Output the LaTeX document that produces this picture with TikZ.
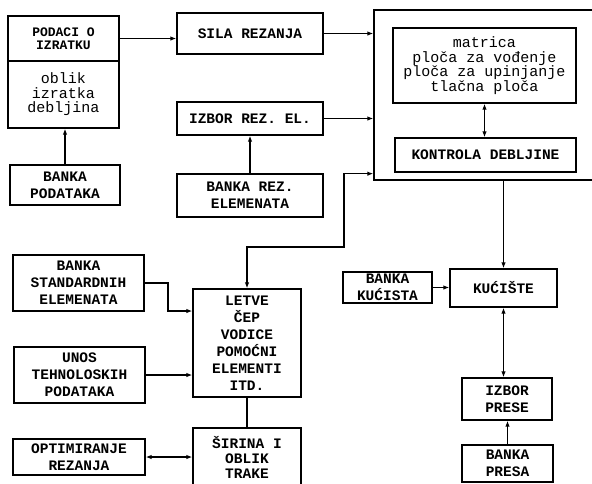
\documentclass[tikz,border=0pt]{standalone}
\usepackage{fontspec}
\newfontfamily\typew{Liberation Mono}
\usetikzlibrary{arrows.meta}

\begin{document}
\begin{tikzpicture}[
  x=1pt, y=-1pt,
  >={Latex[length=6pt,width=4.5pt]},
  box/.style={
    rectangle,
    draw=black,
    line width=1.3pt,
    align=center,
    inner sep=0pt,
    font=\typew\bfseries\fontsize{14.5}{17}\selectfont
  },
  lowbox/.style={
    box,
    font=\typew\fontsize{15}{14.5}\selectfont
  },
  headbox/.style={
    box,
    font=\typew\bfseries\fontsize{13}{13}\selectfont
  },
  arr/.style={->,line width=1.3pt},
  darr/.style={<->,line width=1.3pt},
  ln/.style={line width=1.3pt}
]
\clip (0,0) rectangle (592,483);

% outer block on the right
\node[box, minimum width=226pt, minimum height=170pt] (alat) at (487,95) {};
\node[lowbox, minimum width=183pt, minimum height=75pt] (matrica) at (484.5,65.5)
  {matrica\\ploča za vođenje\\ploča za upinjanje\\tlačna ploča};
\node[box, minimum width=181pt, minimum height=34pt] (kontrola) at (485.5,155) {KONTROLA DEBLJINE};

% left column
\node[headbox, minimum width=111pt, minimum height=45pt] (izrhead) at (63.5,38.5) {PODACI O\\IZRATKU};
\node[lowbox, minimum width=111pt, minimum height=67pt] (izrbody) at (63.5,94.5) {oblik\\izratka\\debljina};
\node[box, minimum width=110pt, minimum height=40pt] (bpod) at (65,185) {BANKA\\PODATAKA};
\node[box, minimum width=131pt, minimum height=56pt] (bstd) at (78.5,283) {BANKA\\STANDARDNIH\\ELEMENATA};
\node[box, minimum width=131pt, minimum height=56pt] (unos) at (79.5,375) {UNOS\\TEHNOLOSKIH\\PODATAKA};
\node[box, minimum width=132pt, minimum height=36pt] (optim) at (79,457) {OPTIMIRANJE\\REZANJA};

% middle column
\node[box, minimum width=146pt, minimum height=41pt] (sila) at (250,33.5) {SILA REZANJA};
\node[box, minimum width=146pt, minimum height=33pt] (izborrez) at (250,118.5) {IZBOR REZ. EL.};
\node[box, minimum width=146pt, minimum height=43pt] (bankarez) at (250,195.5) {BANKA REZ.\\ELEMENATA};
\node[box, minimum width=108pt, minimum height=108pt] (letve) at (247,343)
  {LETVE\\ČEP\\VODICE\\POMOĆNI\\ELEMENTI\\ITD.};
\node[box, minimum width=108pt, minimum height=58pt,
  font=\typew\bfseries\fontsize{14.5}{15}\selectfont] (sirina) at (247,457) {ŠIRINA I\\OBLIK\\TRAKE};

% right column
\node[box, minimum width=89pt, minimum height=31pt] (bkuc) at (387.5,287.5) {BANKA\\KUĆISTA};
\node[box, minimum width=107pt, minimum height=38pt] (kuciste) at (503.5,288) {KUĆIŠTE};
\node[box, minimum width=90pt, minimum height=42pt] (izbpr) at (507,399) {IZBOR\\PRESE};
\node[box, minimum width=91pt, minimum height=37pt] (bpresa) at (507.5,463.5) {BANKA\\PRESA};

\coordinate (alatin) at ([yshift=7pt]alat.south west);
\coordinate (k1) at (344,247);
\coordinate (st1) at (168,311);

\draw[arr] (bpod.north) -- (bpod.north |- izrbody.south);
\draw[arr] (izrhead.east) -- (izrhead.east -| sila.west);
\draw[arr] (sila.east) -- (sila.east -| alat.west);
\draw[arr] (izborrez.east) -- (izborrez.east -| alat.west);
\draw[arr] (bankarez.north) -- (bankarez.north |- izborrez.south);
\draw[darr] (matrica.south) -- (matrica.south |- kontrola.north);
\draw[darr] (alatin) -| (k1) -| (letve.north);
\draw[arr] (kuciste.north |- alat.south) -- (kuciste.north);
\draw[arr] (bkuc.east) -- (bkuc.east -| kuciste.west);
\draw[darr] (kuciste.south) -- (kuciste.south |- izbpr.north);
\draw[arr] (bpresa.north) -- (bpresa.north |- izbpr.south);
\draw[arr] (bstd.east) -| (st1) -- (st1 -| letve.west);
\draw[arr] (unos.east) -- (unos.east -| letve.west);
\draw[darr] (optim.east) -- (optim.east -| sirina.west);
\draw[ln] (letve.south) -- (sirina.north);

\end{tikzpicture}
\end{document}
